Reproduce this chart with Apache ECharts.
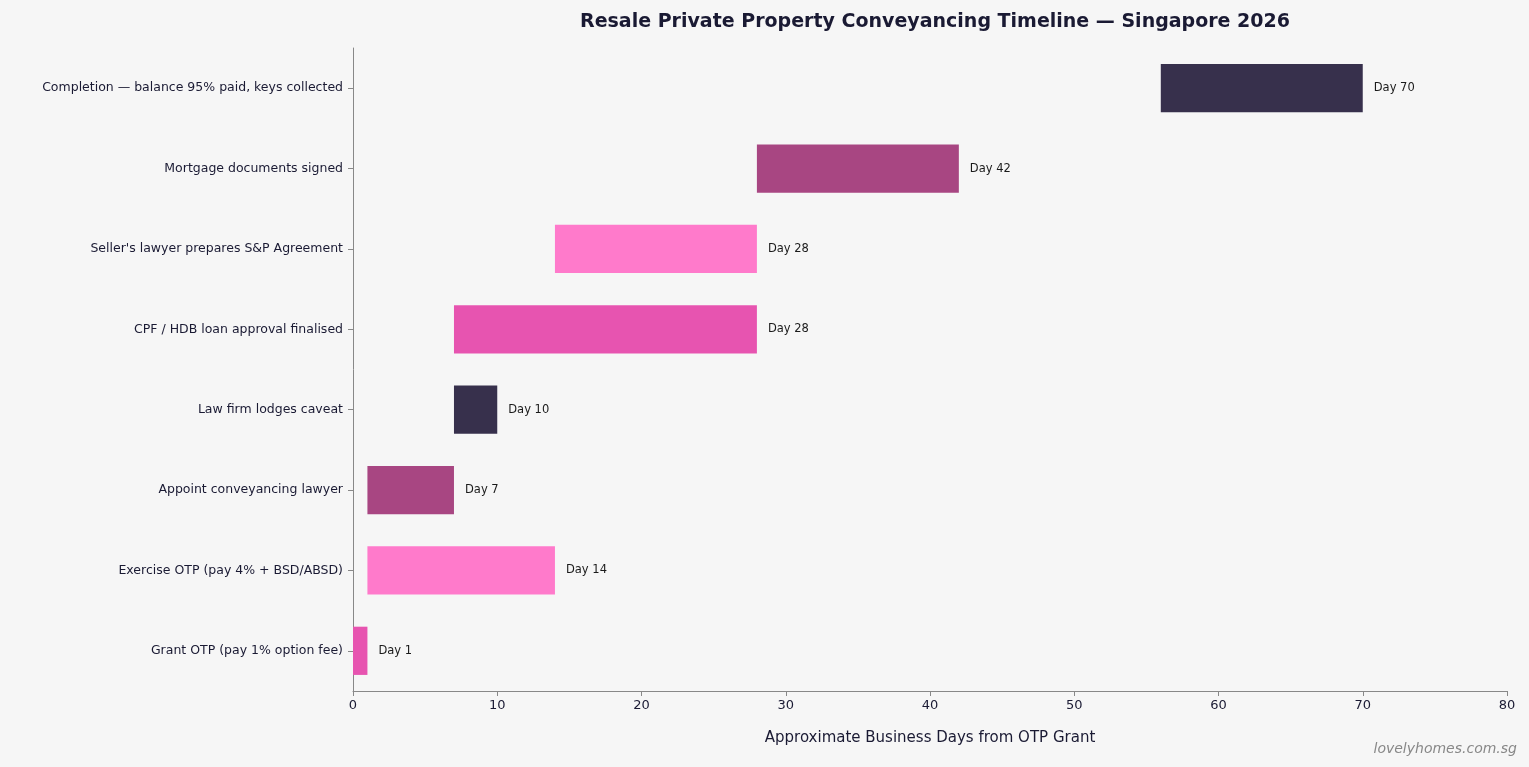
<!DOCTYPE html>
<html><head><meta charset="utf-8">
<script src="https://cdn.jsdelivr.net/npm/echarts@6/dist/echarts.min.js"></script>
<style>html,body{margin:0;padding:0;background:#f6f6f6}#c{width:1529px;height:767px}</style>
</head><body><div id="c"></div>
<script>
const categories = ["Grant OTP (pay 1% option fee)","Exercise OTP (pay 4% + BSD/ABSD)","Appoint conveyancing lawyer","Law firm lodges caveat","CPF / HDB loan approval finalised","Seller's lawyer prepares S&P Agreement","Mortgage documents signed","Completion — balance 95% paid, keys collected"];
const startDays = [0,1,1,7,7,14,28,56];
const endDays = [1,14,7,10,28,28,42,70];
const colors = ["#e754b0","#ff7acb","#a84682","#37304c","#e754b0","#ff7acb","#a84682","#37304c"];
const xTicks = [0,10,20,30,40,50,60,70,80];
const chart = echarts.init(document.getElementById('c'));
chart.setOption({
  backgroundColor:'#f6f6f6',
  title:{text:'Resale Private Property Conveyancing Timeline — Singapore 2026',left:930,top:8,textAlign:'center',textStyle:{fontSize:19,fontWeight:'bold',color:'#1a1a33',fontFamily:'DejaVu Sans'}},
  graphic:[{type:'text',right:12,bottom:11,style:{text:'lovelyhomes.com.sg',fill:'#888',font:'italic 14px DejaVu Sans'}}],
  grid:{left:353,right:22,top:48,bottom:76},
  xAxis:{type:'value',min:0,max:80,interval:10,name:'Approximate Business Days from OTP Grant',nameLocation:'middle',nameGap:40,
    nameTextStyle:{fontSize:15,color:'#1a1a33',fontFamily:'DejaVu Sans'},
    axisLine:{show:true,lineStyle:{color:'#888'}},axisTick:{show:true,lineStyle:{color:'#888'}},splitLine:{show:false},
    axisLabel:{fontSize:13,color:'#1a1a33',fontFamily:'DejaVu Sans',formatter:v=>xTicks.includes(v)?String(v):''}},
  yAxis:{type:'category',data:categories,axisLine:{lineStyle:{color:'#888'}},axisTick:{show:true,alignWithLabel:true,lineStyle:{color:'#888'}},
    axisLabel:{fontSize:12.5,color:'#1a1a33',fontFamily:'DejaVu Sans',margin:10}},
  series:[
    {type:'bar',stack:'a',data:startDays,itemStyle:{color:'transparent'},barWidth:'60%',silent:true},
    {type:'bar',stack:'a',barWidth:'60%',data:endDays.map((e,i)=>({value:e-startDays[i],itemStyle:{color:colors[i]}})),
      label:{show:true,position:'right',distance:11,fontSize:11.5,color:'#1a1a1a',fontFamily:'DejaVu Sans',formatter:p=>'Day '+endDays[p.dataIndex]}}
  ]
});
</script></body></html>
